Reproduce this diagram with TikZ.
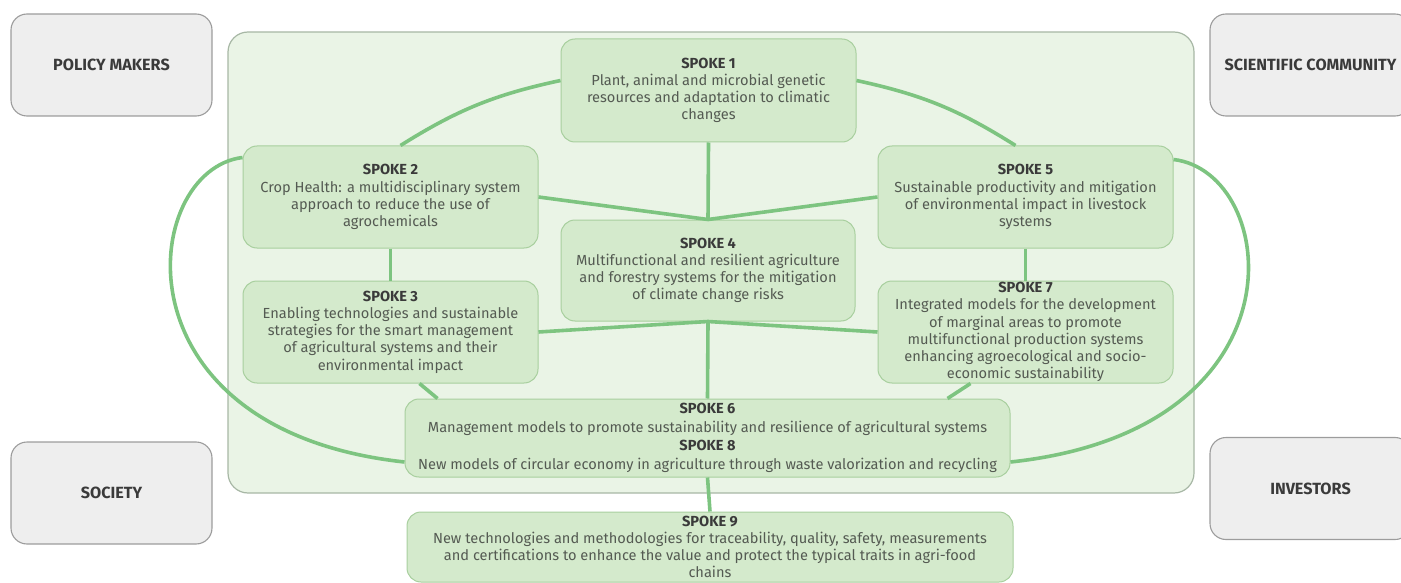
\documentclass[tikz,border=0pt]{standalone}
\usepackage{fontspec}
\setmainfont{Fira Sans}
\usetikzlibrary{calc}
\definecolor{contfill}{HTML}{EAF4E6}
\definecolor{contborder}{HTML}{A7B7A5}
\definecolor{spokefill}{HTML}{D4EACC}
\definecolor{spokeborder}{HTML}{A8CF9E}
\definecolor{linkgreen}{HTML}{7DC480}
\definecolor{grayfill}{HTML}{EEEEEE}
\definecolor{grayborder}{HTML}{9C9C9C}
\definecolor{headtext}{HTML}{3A3A3A}
\definecolor{bodytext}{HTML}{545A52}
\newcommand{\hd}[1]{{\color{headtext}\bfseries #1}}
\tikzset{
  spokebox/.style={draw=spokeborder, fill=spokefill, rounded corners=14pt, line width=1pt,
    align=center, inner sep=0pt, text=bodytext, font=\fontsize{14.6}{17.2}\selectfont},
  outerbox/.style={draw=grayborder, fill=grayfill, rounded corners=16pt, line width=1.1pt,
    minimum width=201pt, minimum height=102pt, inner sep=0pt,
    font=\fontsize{16.2}{18}\selectfont\bfseries, text=headtext},
  container/.style={draw=contborder, fill=contfill, rounded corners=20pt, line width=1.2pt},
  link/.style={draw=linkgreen, line width=3.6pt},
}
\begin{document}
\begin{tikzpicture}[x=1pt,y=-1pt]
\useasboundingbox (0,0) rectangle (1401,583);
\clip (0,0) rectangle (1401,583);
% outer stakeholder boxes
\node[outerbox] (pm) at (111.5,65) {POLICY MAKERS};
\node[outerbox] (sc) at (1310.5,65) {SCIENTIFIC COMMUNITY};
\node[outerbox] (so) at (111.5,493) {SOCIETY};
\node[outerbox] (inv) at (1310.5,488.5) {INVESTORS};
% container
\node[container, minimum width=966pt, minimum height=461pt, inner sep=0pt] (cont) at (711,262.5) {};
% spokes
\node[spokebox, minimum width=295pt, minimum height=103pt] (s1) at (708.5,90.5)
  {\hd{SPOKE 1}\\Plant, animal and microbial genetic\\resources and adaptation to climatic\\changes};
\node[spokebox, minimum width=295pt, minimum height=102pt] (s2) at (390.5,197)
  {\hd{SPOKE 2}\\Crop Health: a multidisciplinary system\\approach to reduce the use of\\agrochemicals};
\node[spokebox, minimum width=295pt, minimum height=102pt] (s3) at (390.5,332)
  {\hd{SPOKE 3}\\Enabling technologies and sustainable\\strategies for the smart management\\of agricultural systems and their\\environmental impact};
\node[spokebox, minimum width=294pt, minimum height=101pt] (s4) at (708,270.5)
  {\hd{SPOKE 4}\\Multifunctional and resilient agriculture\\and forestry systems for the mitigation\\of climate change risks};
\node[spokebox, minimum width=295pt, minimum height=102pt] (s5) at (1025.5,197)
  {\hd{SPOKE 5}\\Sustainable productivity and mitigation\\of environmental impact in livestock\\systems};
\node[spokebox, minimum width=295pt, minimum height=102pt] (s7) at (1025.5,332)
  {\hd{SPOKE 7}\\Integrated models for the development\\of marginal areas to promote\\multifunctional production systems\\enhancing agroecological and socio-\\economic sustainability};
\node[spokebox, minimum width=605pt, minimum height=78pt, font=\fontsize{14.6}{18.5}\selectfont] (s6) at (707.5,438)
  {\hd{SPOKE 6}\\Management models to promote sustainability and resilience of agricultural systems\\\hd{SPOKE 8}\\New models of circular economy in agriculture through waste valorization and recycling};
\node[spokebox, minimum width=606pt, minimum height=70pt] (s9) at (710,547)
  {\hd{SPOKE 9}\\New technologies and methodologies for traceability, quality, safety, measurements\\and certifications to enhance the value and protect the typical traits in agri-food\\chains};
% anchor points
\coordinate (s1l) at ([yshift=10]s1.west);
\coordinate (s1r) at ([yshift=10]s1.east);
\coordinate (s2top) at ([xshift=10]s2.north);
\coordinate (s5top) at ([xshift=-10]s5.north);
\coordinate (s3bot) at ([xshift=177]s3.south west);
\coordinate (s6tl) at ([xshift=33]s6.north west);
\coordinate (s7bot) at ([xshift=-203]s7.south east);
\coordinate (s6tr) at ([xshift=-63]s6.north east);
\coordinate (s2l) at ([yshift=-12]s2.north west);
\coordinate (s5r) at ([yshift=-14]s5.north east);
\coordinate (s6l) at ([yshift=-24]s6.west);
\coordinate (s6r) at ([yshift=-24]s6.east);
% connectors
\draw[link] (s1l) to[bend right=10] (s2top);
\draw[link] (s1r) to[bend left=10] (s5top);
\draw[link] (s1.south) -- (s4.north);
\draw[link] (s2.east) -- (s4.north);
\draw[link] (s5.west) -- (s4.north);
\draw[link] (s2.south) -- (s3.north);
\draw[link] (s5.south) -- (s7.north);
\draw[link] (s3.east) -- (s4.south);
\draw[link] (s7.west) -- (s4.south);
\draw[link] (s4.south) -- (s6.north);
\draw[link] (s3bot) -- (s6tl);
\draw[link] (s7bot) -- (s6tr);
\draw[link] (s6.south) -- (s9.north);
\draw[link] (s2l) .. controls (140,170) and (110,430) .. (s6l);
\draw[link] (s5r) .. controls (1280,172) and (1310,430) .. (s6r);
\end{tikzpicture}
\end{document}
